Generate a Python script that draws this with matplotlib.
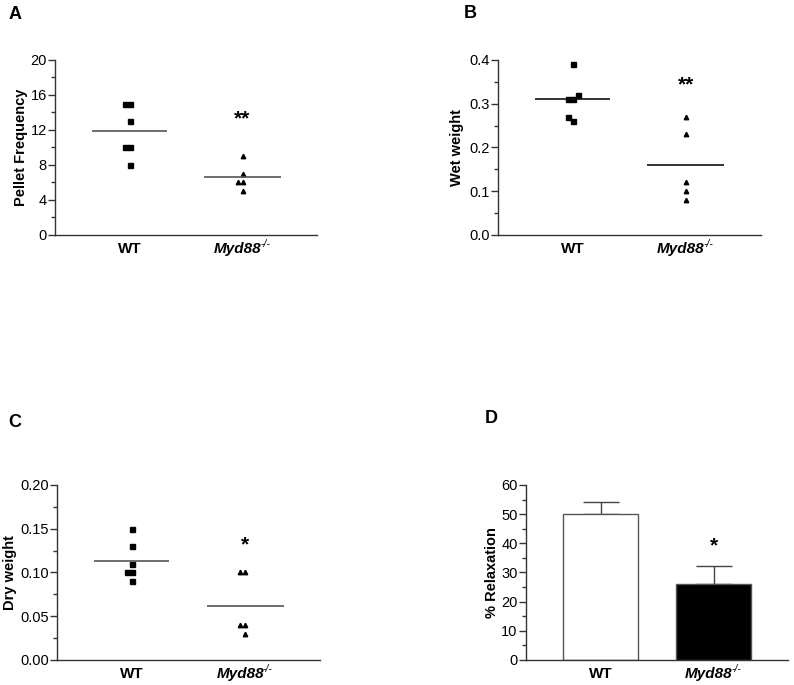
import numpy as np
import matplotlib.pyplot as plt
from matplotlib.ticker import MultipleLocator, FormatStrFormatter
from matplotlib.transforms import ScaledTranslation

plt.rcParams['font.family'] = ['Liberation Sans', 'DejaVu Sans']

groups = ['WT', 'Myd88']
ko_sup = '-/-'

# A: pellet frequency
pellet_wt = [15, 15, 13, 10, 10, 8]
pellet_ko = [9, 7, 6, 6, 5]
# B: wet weight
wet_wt = [0.39, 0.31, 0.31, 0.32, 0.26, 0.27]
wet_ko = [0.27, 0.23, 0.12, 0.10, 0.08]
# C: dry weight
dry_wt = [0.15, 0.13, 0.11, 0.10, 0.10, 0.09]
dry_ko = [0.10, 0.10, 0.04, 0.04, 0.03]
# D: % relaxation (mean, SEM)
relax_mean = [50.0, 26.1]
relax_sem = [4.2, 6.2]

fig = plt.figure(figsize=(7.94, 6.85), dpi=100)
DPI = 100.0
label_drop = 18 / DPI   # baseline of group labels below the x axis (inches)


def spread(vals, ymax, h_px=175, px_unit=113, msize=5.0):
	# simple beeswarm: nudge sideways points that would overlap
	placed = []
	offs = []
	for v in vals:
		y = v / ymax * h_px
		for k in [0, -1, 1, -2, 2]:
			x = k * msize
			if all(abs(x - px) >= msize or abs(y - py) >= msize for px, py in placed):
				break
		placed.append((x, y))
		offs.append(x / px_unit)
	return np.array(offs)


group_texts = []


def style(ax, ymax, major, minor, fmt, ylabel, labx):
	ax.set_xlim(-0.66, 1.66)
	ax.set_ylim(0, ymax)
	ax.spines['top'].set_visible(False)
	ax.spines['right'].set_visible(False)
	for s in ['left', 'bottom']:
		ax.spines[s].set_linewidth(1.0)
		ax.spines[s].set_color('#333333')
	ax.yaxis.set_major_locator(MultipleLocator(major))
	ax.yaxis.set_minor_locator(MultipleLocator(minor))
	ax.yaxis.set_major_formatter(FormatStrFormatter(fmt))
	ax.tick_params(axis='y', which='major', length=5, width=1, labelsize=10.5, pad=1, color='#333333')
	ax.tick_params(axis='y', which='minor', length=3, width=1, color='#333333')
	ax.set_xticks([])
	ax.set_ylabel(ylabel, fontsize=10.5, fontweight='bold')
	ax.yaxis.set_label_coords(labx, 0.5)

	tr = ax.get_xaxis_transform()
	wt = ax.text(0, 0, groups[0], ha='left', va='baseline', fontsize=11, fontweight='bold',
		transform=tr)
	ko = ax.text(1, 0, groups[1], ha='left', va='baseline', fontsize=11, fontweight='bold',
		fontstyle='italic', transform=tr)
	sup = ax.text(1, 0, ko_sup, ha='left', va='baseline', fontsize=7.5, fontstyle='italic',
		transform=tr)
	group_texts.append((ax, wt, ko, sup))


def place_group_labels():
	fig.canvas.draw()
	r = fig.canvas.get_renderer()
	for ax, wt, ko, sup in group_texts:
		tr = ax.get_xaxis_transform()
		w = wt.get_window_extent(r).width
		wt.set_transform(tr + ScaledTranslation(-w / 2 / DPI, -label_drop, fig.dpi_scale_trans))
		w1 = ko.get_window_extent(r).width
		w2 = sup.get_window_extent(r).width
		x0 = -(w1 + w2) / 2
		ko.set_transform(tr + ScaledTranslation(x0 / DPI, -label_drop, fig.dpi_scale_trans))
		sup.set_transform(tr + ScaledTranslation((x0 + w1 - 1) / DPI, -label_drop + 5.5 / DPI,
			fig.dpi_scale_trans))


def scatter_panel(ax, wt, ko, ymax, line_color):
	ax.plot(0 + spread(wt, ymax), wt, 's', color='black', markersize=3.6, clip_on=False)
	ax.plot(1 + spread(ko, ymax), ko, '^', color='black', markersize=3.2, clip_on=False)
	ax.hlines(np.mean(wt), -0.33, 0.33, color=line_color, linewidth=1.2)
	ax.hlines(np.mean(ko), 1 - 0.34, 1 + 0.34, color=line_color, linewidth=1.2)


axA = fig.add_axes([0.0693, 0.657, 0.330, 0.2555])
scatter_panel(axA, pellet_wt, pellet_ko, 20, '#555555')
style(axA, 20, 4, 2, '%d', 'Pellet Frequency', -0.103)
axA.text(1, 13.3, '**', ha='center', va='center', fontsize=15, fontweight='bold')

axB = fig.add_axes([0.627, 0.657, 0.331, 0.2555])
scatter_panel(axB, wet_wt, wet_ko, 0.4, '#111111')
style(axB, 0.4, 0.1, 0.05, '%.1f', 'Wet weight', -0.129)
axB.text(1, 0.343, '**', ha='center', va='center', fontsize=15, fontweight='bold')

axC = fig.add_axes([0.0718, 0.0365, 0.331, 0.2555])
scatter_panel(axC, dry_wt, dry_ko, 0.2, '#555555')
style(axC, 0.2, 0.05, 0.025, '%.2f', 'Dry weight', -0.152)
axC.text(1, 0.131, '*', ha='center', va='center', fontsize=15, fontweight='bold')

axD = fig.add_axes([0.6625, 0.0365, 0.330, 0.2555])
axD.bar([0, 1], relax_mean, width=0.67, color=['white', 'black'],
	edgecolor='#555555', linewidth=1.0, zorder=2)
axD.errorbar([0, 1], relax_mean, yerr=[[0, 0], relax_sem], fmt='none',
	ecolor='#444444', elinewidth=1.0, capsize=13, capthick=1.0, zorder=1)
style(axD, 60, 10, 5, '%d', '% Relaxation', -0.103)
axD.text(1, 39.0, '*', ha='center', va='center', fontsize=15, fontweight='bold')

for lab, x, y in [('A', 0.011, 0.972), ('B', 0.584, 0.974), ('C', 0.010, 0.377), ('D', 0.610, 0.382)]:
	fig.text(x, y, lab, fontsize=13, fontweight='bold', va='baseline')

place_group_labels()
plt.savefig('out.png', dpi=100)
